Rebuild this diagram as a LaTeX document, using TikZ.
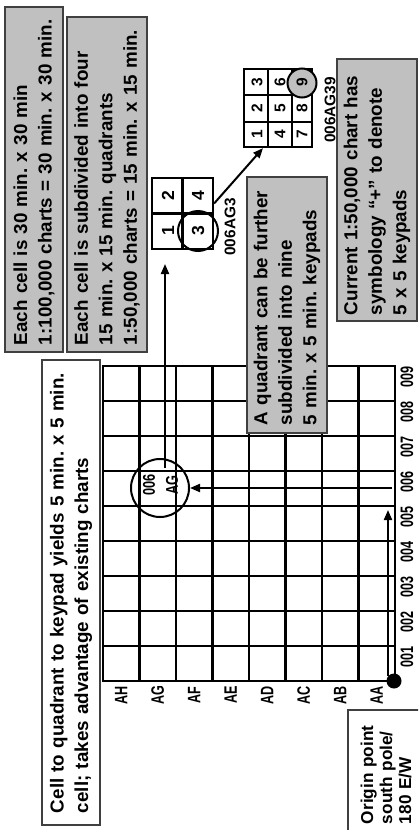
\documentclass[tikz,border=0pt]{standalone}
\usepackage{fontspec}
\setmainfont{Liberation Sans}
\usepackage{graphicx}
\usetikzlibrary{arrows.meta,shapes,positioning}
\definecolor{boxgray}{HTML}{C0C0C0}
\newcommand{\narrow}[1]{\scalebox{0.7}[1]{#1}}
\frenchspacing

\begin{document}
\begin{tikzpicture}[x=1pt, y=-1pt, >={Triangle[length=10pt, width=8pt]},
  every node/.style={font=\bfseries},
  infobox/.style={draw=black!75, line width=1.2pt, fill=boxgray, rotate=90, inner sep=0pt,
    align=left, font=\bfseries\fontsize{18.8}{24.5}\selectfont},
  whitebox/.style={infobox, fill=white},
  gridlab/.style={rotate=90, inner sep=0pt, font=\bfseries\fontsize{18}{20}\selectfont},
  codelab/.style={rotate=90, inner sep=0pt, font=\bfseries\fontsize{15.4}{18}\selectfont},
  digit/.style={rotate=90, inner sep=0pt, font=\bfseries\fontsize{17.5}{20}\selectfont},
  keydigit/.style={digit, font=\bfseries\fontsize{15.5}{18}\selectfont},
  gridline/.style={line width=2.2pt, line cap=rect},
  ring/.style={circle, draw, line width=2pt, inner sep=0pt},
  pointer/.style={->, line width=2pt}]

  \path[use as bounding box, clip] (0,0) rectangle (418,830);

  % Notes along the top
  \node[infobox, minimum width=345pt, minimum height=58pt, text width=331pt] (cellnote) at (34,179.5)
    {Each cell is 30 min. x 30 min\\1:100,000 charts = 30 min. x 30 min.};
  \node[infobox, minimum width=335pt, minimum height=80pt, text width=321pt] (quadsnote) at (107,184.5)
    {Each cell is subdivided into four\\15 min. x 15 min. quadrants\\1:50,000 charts = 15 min. x 15 min.};
  \node[whitebox, minimum width=465pt, minimum height=58pt, text width=441pt] (yieldnote) at (71,592.5)
    {Cell to quadrant to keypad yields 5 min. x 5 min.\\cell; takes advantage of existing charts};

  % Grid of cells
  \foreach \i in {0,...,8}
    \draw[gridline] (103+36.5*\i, 366) -- (103+36.5*\i, 681);
  \foreach \j in {0,...,9}
    \draw[gridline] (103, 366+35*\j) -- (395, 366+35*\j);

  % Row and column labels
  \foreach \lab [count=\i from 0] in {AH,AG,AF,AE,AD,AC,AB,AA}
    \node[gridlab] (row\lab) at (121.25+36.5*\i, 695) {\narrow{\lab}};
  \foreach \lab [count=\j from 0] in {009,008,007,006,005,004,003,002,001}
    \node[gridlab] (col\lab) at (407, 376.5+35*\j) {\narrow{\lab}};

  % Notes on the right
  \node[infobox, minimum width=256pt, minimum height=80pt, text width=240pt] (keynote) at (287,305)
    {A quadrant can be further\\subdivided into nine\\5 min. x 5 min. keypads};
  \node[infobox, minimum width=262pt, minimum height=80pt, text width=250pt] (chartnote) at (377,190)
    {Current 1:50,000 chart has\\symbology “+” to denote\\5 x 5 keypads};
  \node[whitebox, minimum width=124pt, minimum height=76pt, text width=104pt,
    font=\bfseries\fontsize{17.2}{19}\selectfont] (originnote) at (386,772)
    {Origin point\\south pole/\\180 E/W};

  % Origin and path to cell 006 AG
  \node[circle, fill=black, minimum size=15pt, inner sep=0pt] (origin) at (394,681) {};
  \node[ring, minimum size=58pt] (cellag) at (160,488) {};
  \node[rotate=90, align=center, inner sep=0pt, font=\bfseries\fontsize{17}{23}\selectfont]
    (cellagtext) at (160.5,485) {\scalebox{0.75}[1]{006}\\\scalebox{0.75}[1]{AG}};
  \coordinate (eastfrom) at (388,676);
  \coordinate (eastto) at (388,510);
  \coordinate (northfrom) at (392,488);
  \coordinate (upfrom) at (165,468);
  \coordinate (upto) at (165,264);
  \draw[pointer] (eastfrom) -- (eastto);
  \draw[pointer] (northfrom) -- (cellag.east);
  \draw[pointer] (upfrom) -- (upto);

  % Quadrants of the cell
  \node[draw, line width=2.2pt, minimum width=61pt, minimum height=71pt, inner sep=0pt] (quad) at (182.5,213.5) {};
  \draw[line width=2.2pt] (quad.north) -- (quad.south);
  \draw[line width=2.2pt] (quad.west) -- (quad.east);
  \node[digit] (q1) at (168,231) {1};
  \node[digit] (q2) at (168,196) {2};
  \node[digit] (q3) at (198,231) {3};
  \node[digit] (q4) at (198,196) {4};
  \node[ring, minimum size=40pt] (q3ring) at (198,231) {};
  \node[codelab] (quadcode) at (230,227) {006AG3};

  % Keypads of the quadrant
  \node[draw, line width=2.2pt, minimum width=68pt, minimum height=78pt, inner sep=0pt] (keypad) at (278,108) {};
  \foreach \x in {268,292}
    \draw[line width=2.2pt] (\x,69) -- (\x,147);
  \foreach \y in {95,122}
    \draw[line width=2.2pt] (244,\y) -- (312,\y);
  \foreach \n/\x/\y in {1/257/134,2/257/108,3/257/82,4/280/134,5/280/108,6/280/82,7/302/134,8/302/108}
    \node[keydigit] (k\n) at (\x,\y) {\n};
  \node[ring, fill=boxgray, minimum size=29pt] (k9ring) at (302,83) {};
  \node[keydigit] (k9) at (302,82) {9};
  \node[codelab] (keycode) at (330,110) {006AG39};
  \draw[pointer] ([yshift=10pt]quad.east) -- ([xshift=-15pt]keypad.south);
\end{tikzpicture}
\end{document}
